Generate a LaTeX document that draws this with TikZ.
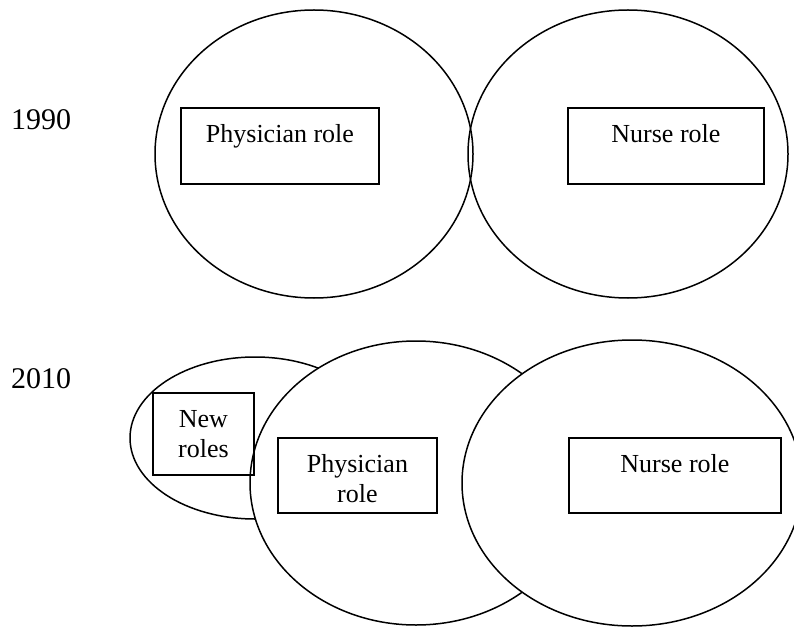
\documentclass[tikz,border=0pt]{standalone}
\usepackage{fontspec}
\setmainfont{Liberation Serif}
\usepackage{tikz}

\tikzset{
  area/.style={line width=1.5pt},
  rolebox/.style={draw,line width=1.9pt,inner sep=0pt,anchor=north west,
    font=\fontsize{26}{30}\selectfont},
  yearlabel/.style={inner sep=0pt,anchor=base west,
    font=\fontsize{30}{36}\selectfont}
}
% text box of fixed size, text from the top
\newcommand{\roletext}[3]{\parbox[t][#2pt][t]{#1pt}{\centering\rule{0pt}{35pt}#3}}

\begin{document}
\begin{tikzpicture}[x=1pt,y=-1pt]
  \useasboundingbox (0,0) rectangle (794,628);
  % 1990
  \node[yearlabel] (y1990) at (11,130) {1990};
  \draw[area] (314,154) ellipse [x radius=159,y radius=144];
  \draw[area] (628,154) ellipse [x radius=160,y radius=144];
  \node[rolebox] (phys90) at (180,107) {\roletext{198}{76}{Physician role}};
  \node[rolebox] (nurse90) at (567,107) {\roletext{196}{76}{Nurse role}};
  % 2010
  \node[yearlabel] (y2010) at (11,388) {2010};
  \draw[area,fill=white] (255,438) ellipse [x radius=125,y radius=81];
  \draw[area,fill=white] (416,483) ellipse [x radius=166,y radius=142];
  \draw[area,fill=white] (632,483) ellipse [x radius=170,y radius=143];
  \node[rolebox] (new10) at (152,392) {\roletext{101}{82}{New\\roles}};
  \node[rolebox] (phys10) at (277,437) {\roletext{159}{75}{Physician\\role}};
  \node[rolebox] (nurse10) at (568,437) {\roletext{212}{75}{Nurse role}};
\end{tikzpicture}
\end{document}
